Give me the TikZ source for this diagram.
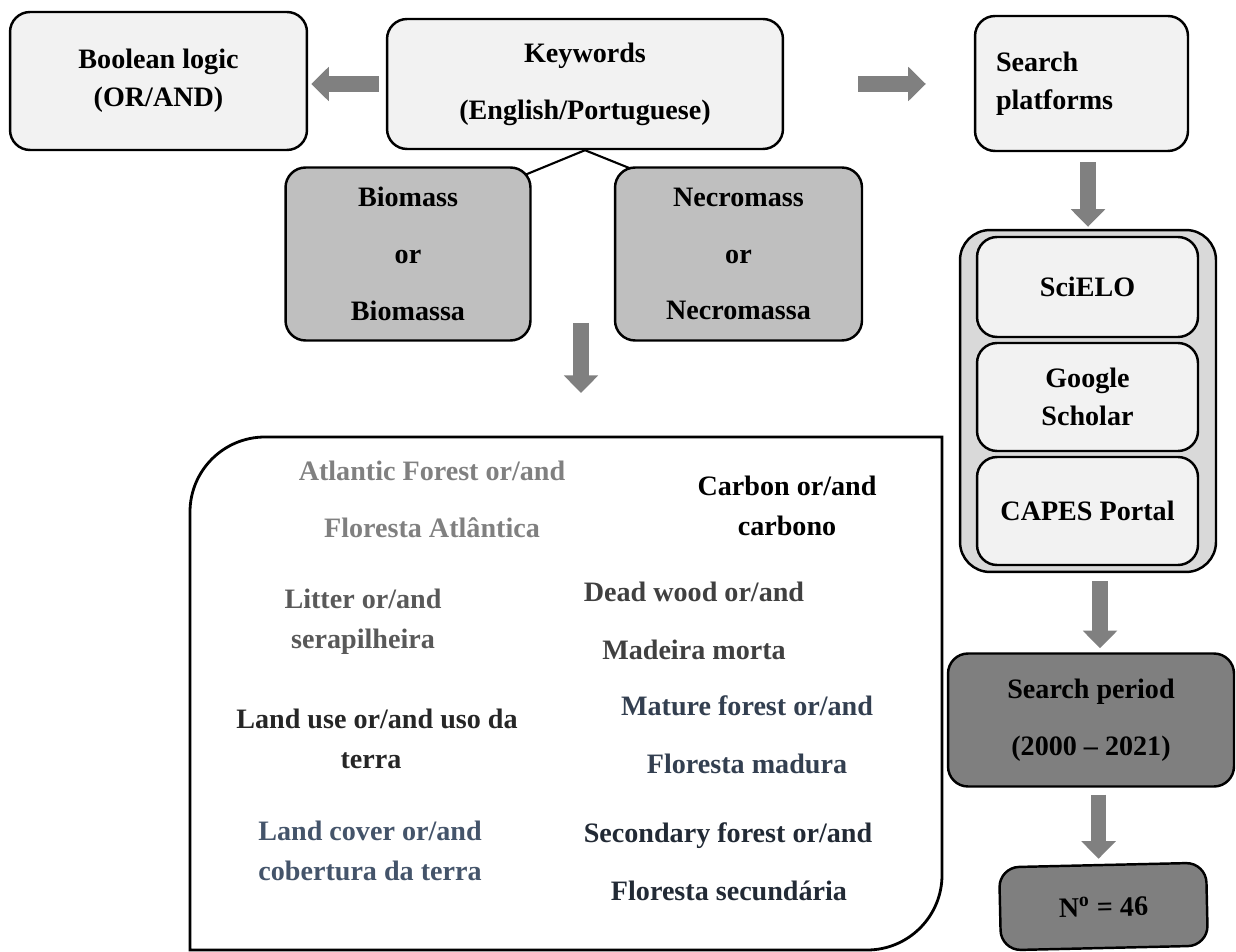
\documentclass[tikz,border=0pt]{standalone}
\usepackage{fontspec}
\setmainfont{Liberation Serif}
\usetikzlibrary{arrows.meta,backgrounds,calc}
\definecolor{lightbox}{HTML}{F2F2F2}
\definecolor{midbox}{HTML}{BFBFBF}
\definecolor{contbox}{HTML}{D9D9D9}
\definecolor{darkbox}{HTML}{7F7F7F}
\definecolor{arrowgray}{HTML}{808080}
\definecolor{tAtl}{HTML}{808080}
\definecolor{tLit}{HTML}{595959}
\definecolor{tDead}{HTML}{404040}
\definecolor{tUse}{HTML}{262626}
\definecolor{tMat}{HTML}{333F50}
\definecolor{tCov}{HTML}{44546A}
\definecolor{tSec}{HTML}{222A35}
\tikzset{
  box/.style={draw=black, line width=1.4pt, rounded corners=0.4cm, align=center, inner sep=0pt},
  lightnode/.style={box, fill=lightbox},
  midnode/.style={box, fill=midbox},
  darknode/.style={box, fill=darkbox},
  garrow/.style={draw=arrowgray, line width=9pt, -{Triangle[width=19pt,length=10pt]}},
  kt/.style={inner sep=0pt, text height=11pt, text depth=3pt, align=center},
  link/.style={draw=black, line width=1.2pt},
}
\begin{document}
\begin{tikzpicture}[x=0.02cm, y=-0.02cm, font=\bfseries\fontsize{16}{21.5}\selectfont]
\useasboundingbox (0,0) rectangle (1236,952);

% top row
\node[lightnode, minimum width=5.94cm, minimum height=2.76cm] (bool) at (158.5,81) {Boolean logic\\(OR/AND)};
\node[lightnode, minimum width=7.92cm, minimum height=2.6cm] (kw) at (585,84) {Keywords\\[10.8pt](English/Portuguese)};
\node[lightnode, minimum width=4.26cm, minimum height=2.7cm, align=left, text width=3.42cm] (sp) at (1081.5,83.5) {Search\\platforms};

% biomass / necromass
\node[midnode, minimum width=4.9cm, minimum height=3.46cm] (bio) at (408,254) {Biomass\\[10.8pt]or\\[10.8pt]Biomassa};
\node[midnode, minimum width=4.94cm, minimum height=3.46cm] (nec) at (738.5,254) {Necromass\\[10.8pt]or\\[10.8pt]Necromassa};

\begin{scope}[on background layer]
\draw[link] (kw.south) -- ($(bio.north east)+(-15,12)$);
\draw[link] (kw.south) -- ($(nec.north west)+(31,8)$);
\end{scope}

% platforms
\node[box, fill=contbox, rounded corners=0.6cm, minimum width=5.12cm, minimum height=6.84cm] (cont) at (1088,401) {};
\node[lightnode, minimum width=4.42cm, minimum height=2.0cm] (sci) at (1087.5,287) {SciELO};
\node[lightnode, minimum width=4.42cm, minimum height=2.16cm] (gs) at (1087.5,397) {Google\\Scholar};
\node[lightnode, minimum width=4.42cm, minimum height=2.16cm] (capes) at (1087.5,511) {CAPES Portal};

\node[darknode, minimum width=5.72cm, minimum height=2.66cm] (per) at (1091,720) {Search period\\[10.8pt](2000 -- 2021)};
\node[darknode, minimum width=4.14cm, minimum height=1.66cm, rotate=1.3] (n) at (1103.5,906.5) {N\textsuperscript{o} = 46};

% arrows
\draw[garrow, shorten <=0.14cm, shorten >=0.06cm] (kw.west) -- (kw.west -| bool.east);
\draw[garrow, shorten <=1.48cm, shorten >=0.96cm] (kw.east) -- (kw.east -| sp.west);
\draw[garrow, shorten <=0.2cm, shorten >=0.04cm] (cont.north |- sp.south) -- (cont.north);
\draw[garrow, shorten <=0.16cm, shorten >=0.08cm] ($(cont.south -| per.north)+(9,0)$) -- ($(per.north)+(9,0)$);
\draw[garrow, shorten <=0.14cm, shorten >=0.1cm] ($(n.north |- per.south)+(-4,0)$) -- ($(n.north)+(-4,0)$);
\coordinate (a1) at (581,323);
\coordinate (a1e) at (581,393);
\draw[garrow] (a1) -- (a1e);

% big keyword box
\draw[line width=1.6pt] (190,950) -- (190,512) arc[start angle=180, end angle=270, radius=75] -- (942,437) -- (942,875) arc[start angle=0, end angle=90, radius=75] -- cycle;

\node[kt, text=tAtl] (atl1) at (432,473) {Atlantic Forest or/and};
\node[kt, text=tAtl] (atl2) at (432,530) {Floresta Atlântica};
\node[kt] (car1) at (787,488) {Carbon or/and};
\node[kt] (car2) at (787,528) {carbono};
\node[kt, text=tLit] (lit1) at (363,601) {Litter or/and};
\node[kt, text=tLit] (lit2) at (363,641) {serapilheira};
\node[kt, text=tDead] (dw1) at (694,594) {Dead wood or/and};
\node[kt, text=tDead] (dw2) at (694,652) {Madeira morta};
\node[kt, text=tUse] (lu1) at (377,721) {Land use or/and uso da};
\node[kt, text=tUse] (lu2) at (371,761) {terra};
\node[kt, text=tMat] (mf1) at (747,708) {Mature forest or/and};
\node[kt, text=tMat] (mf2) at (747,766) {Floresta madura};
\node[kt, text=tCov] (lc1) at (370,833) {Land cover or/and};
\node[kt, text=tCov] (lc2) at (370,873) {cobertura da terra};
\node[kt, text=tSec] (sf1) at (728,835) {Secondary forest or/and};
\node[kt, text=tSec] (sf2) at (729,893) {Floresta secundária};
\end{tikzpicture}
\end{document}
